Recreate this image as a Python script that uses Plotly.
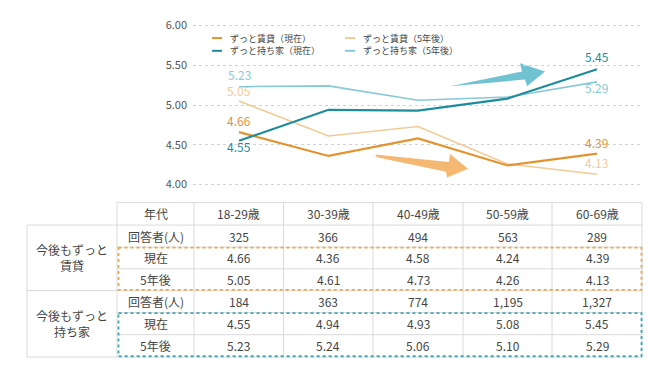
import plotly.graph_objects as go

# ---------------- data ----------------
ages = ["18-29歳", "30-39歳", "40-49歳", "50-59歳", "60-69歳"]
rent_n = [325, 366, 494, 563, 289]
rent_now = [4.66, 4.36, 4.58, 4.24, 4.39]
rent_5y = [5.05, 4.61, 4.73, 4.26, 4.13]
own_n = [184, 363, 774, 1195, 1327]
own_now = [4.55, 4.94, 4.93, 5.08, 5.45]
own_5y = [5.23, 5.24, 5.06, 5.10, 5.29]

series_names = ["ずっと賃貸（現在）", "ずっと賃貸（5年後）", "ずっと持ち家（現在）", "ずっと持ち家（5年後）"]
y_ticks = [4.0, 4.5, 5.0, 5.5, 6.0]

C_ORANGE = "#E3932F"
C_LORANGE = "#F2CB95"
C_TEAL = "#1E8C9C"
C_LTEAL = "#86CAD6"
C_ARR_O = "#F5B872"
C_ARR_T = "#6FC2D0"
FONT = "Noto Sans CJK JP"
TXT = "#454545"
GRIDC = "#D3D3D3"

# page body has an 8px margin: figure drawn 8px in from the window corner
OFF = 8
W, H = 660 - OFF, 370 - OFF
ML, MR, MT, MB = 193 - OFF, 18, 16 - OFF, 183
PW, PH = W - ML - MR, H - MT - MB

def px(x):  # x in window pixels
    return (x - OFF - ML) / PW

def py(y):
    return 1 - (y - OFF - MT) / PH

xs = list(range(len(ages)))
fig = go.Figure()

series = [
    (series_names[1], rent_5y, C_LORANGE, 1.6),
    (series_names[3], own_5y, C_LTEAL, 1.6),
    (series_names[0], rent_now, C_ORANGE, 2.2),
    (series_names[2], own_now, C_TEAL, 2.2),
]
for name, vals, col, w in series:
    fig.add_trace(go.Scatter(x=xs, y=vals, mode="lines", name=name,
                             line=dict(color=col, width=w), showlegend=False,
                             hoverinfo="skip"))

# data labels at first and last points (yshift for first, last)
label_specs = [
    (rent_now, C_ORANGE, 12, 11.5),
    (rent_5y, C_LORANGE, 11, 12),
    (own_now, C_TEAL, -5.5, 13),
    (own_5y, C_LTEAL, 12, -5.5),
]
for vals, col, s_first, s_last in label_specs:
    for i, s in ((0, s_first), (len(vals) - 1, s_last)):
        fig.add_annotation(x=xs[i], y=vals[i], text=f"{vals[i]:.2f}", showarrow=False,
                           yshift=s, font=dict(family=FONT, size=12, color=col),
                           xanchor="center", yanchor="middle", borderpad=0)

shapes = []

def poly(points, color):
    d = "M " + " L ".join(f"{px(a):.5f},{py(b):.5f}" for a, b in points) + " Z"
    return dict(type="path", path=d, xref="paper", yref="paper",
                fillcolor=color, line=dict(width=0), layer="below")

shapes.append(poly([(450, 82), (522, 66.5), (520, 58), (545, 66.5), (527, 82), (525, 75)], C_ARR_T))
shapes.append(poly([(375, 153), (449, 161), (450, 152.5), (468, 168), (447, 177), (446, 171), (377, 156)], C_ARR_O))

# legend
leg = [
    (series_names[0], C_ORANGE, 212, 31.7),
    (series_names[1], C_LORANGE, 345, 31.7),
    (series_names[2], C_TEAL, 212, 45),
    (series_names[3], C_LTEAL, 345, 45),
]
for name, col, x0, y0 in leg:
    shapes.append(dict(type="line", xref="paper", yref="paper",
                       x0=px(x0), x1=px(x0 + 10), y0=py(y0), y1=py(y0),
                       line=dict(color=col, width=2)))
    fig.add_annotation(xref="paper", yref="paper", x=px(x0 + 17), y=py(y0), text=name,
                       showarrow=False, xanchor="left", yanchor="middle", borderpad=0,
                       font=dict(family=FONT, size=9, color=TXT))

# ---------------- table ----------------
col_edges = [194, 283.5, 373, 463, 552, 642]
label_l, group_l = 117, 27
row_edges = [203.3, 226.7, 249.7, 272.3, 295, 318, 341, 364.3]

def hline(x0, x1, y, color="#DADADA", w=1):
    shapes.append(dict(type="line", xref="paper", yref="paper", x0=px(x0), x1=px(x1),
                       y0=py(y), y1=py(y), line=dict(color=color, width=w)))

def vline(x, y0, y1, color="#DADADA", w=1):
    shapes.append(dict(type="line", xref="paper", yref="paper", x0=px(x), x1=px(x),
                       y0=py(y0), y1=py(y1), line=dict(color=color, width=w)))

hline(label_l, 642, row_edges[0])
for i, y in enumerate(row_edges[1:], start=1):
    if i in (1, 4, 7):
        hline(group_l, 642, y)
    else:
        hline(label_l, 642, y)
vline(group_l, row_edges[1], row_edges[7])
vline(label_l, row_edges[0], row_edges[7])
for x in col_edges:
    vline(x, row_edges[0], row_edges[7])

shapes.append(dict(type="rect", xref="paper", yref="paper", x0=px(118.5), x1=px(641.5),
                   y0=py(250.3), y1=py(294.3), line=dict(color="#E9A84A", width=1.8, dash="dot")))
shapes.append(dict(type="rect", xref="paper", yref="paper", x0=px(118.5), x1=px(641.5),
                   y0=py(318.5), y1=py(363.5), line=dict(color="#3FA7B3", width=1.8, dash="dot")))

def cell(x, y, text, size=12):
    fig.add_annotation(xref="paper", yref="paper", x=px(x), y=py(y), text=text,
                       showarrow=False, xanchor="center", yanchor="middle", borderpad=0,
                       font=dict(family=FONT, size=size, color=TXT))

centers = [(col_edges[i] + col_edges[i + 1]) / 2 for i in range(5)]
rowc = [(row_edges[i] + row_edges[i + 1]) / 2 for i in range(7)]
lab_c = (label_l + col_edges[0]) / 2
grp_c = (group_l + label_l) / 2

cell(lab_c, rowc[0], "年代")
for c, a in zip(centers, ages):
    cell(c, rowc[0], a)

row_labels = ["回答者(人)", "現在", "5年後"]
blocks = [(rent_n, rent_now, rent_5y), (own_n, own_now, own_5y)]
for b, (n, now, fut) in enumerate(blocks):
    base = 1 + 3 * b
    for r, lab in enumerate(row_labels):
        cell(lab_c, rowc[base + r], lab)
    for i, c in enumerate(centers):
        cell(c, rowc[base], f"{n[i]:,}")
        cell(c, rowc[base + 1], f"{now[i]:.2f}")
        cell(c, rowc[base + 2], f"{fut[i]:.2f}")

cell(grp_c, rowc[2], "今後もずっと<br>賃貸")
cell(grp_c, rowc[5], "今後もずっと<br>持ち家")

fig.update_layout(
    width=W, height=H,
    margin=dict(l=ML, r=MR, t=MT, b=MB),
    paper_bgcolor="white", plot_bgcolor="white",
    showlegend=False,
    shapes=shapes,
    xaxis=dict(range=[-0.514, 4.503], showgrid=False, zeroline=False,
               showticklabels=False, showline=False, ticks=""),
    yaxis=dict(range=[3.97, 6.03], tickvals=y_ticks, tickformat=".2f",
               showgrid=True, gridcolor=GRIDC, griddash="dot", gridwidth=1,
               zeroline=False, showline=False, ticks="", ticklabelstandoff=5,
               tickfont=dict(family=FONT, size=11, color="#555")),
    font=dict(family=FONT),
)

fig.write_html("out.html")
